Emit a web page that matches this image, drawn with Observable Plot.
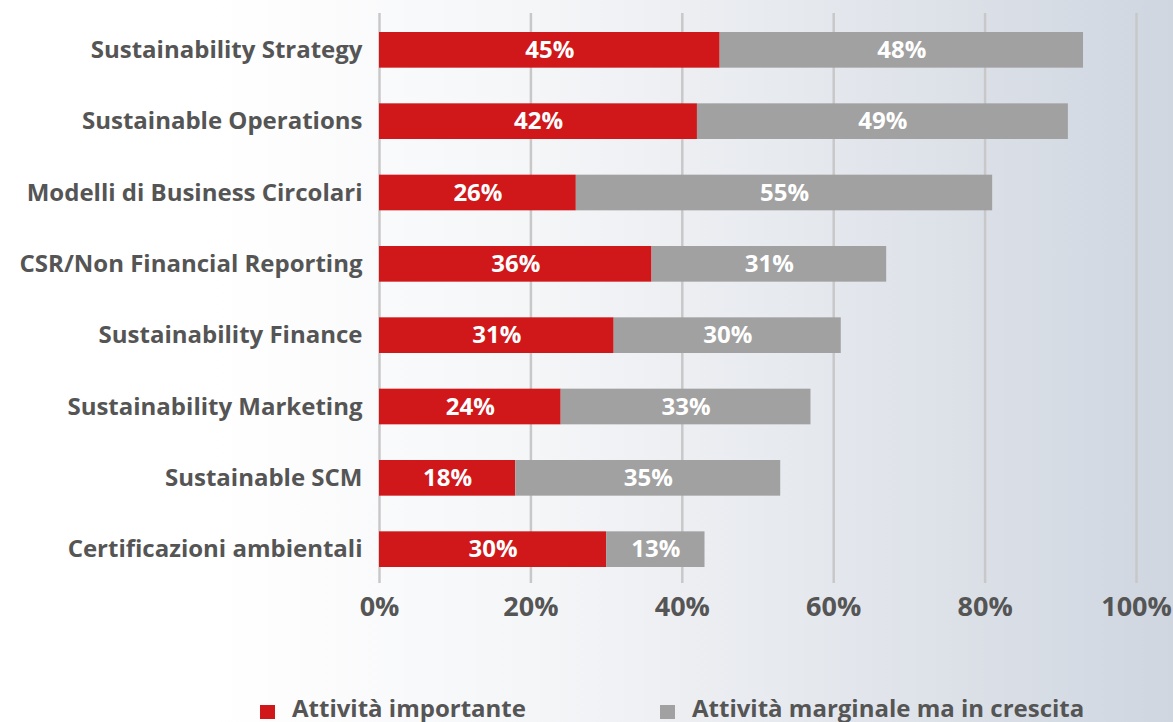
<!DOCTYPE html>
<html>
<head>
<meta charset="utf-8">
<script src="https://cdn.jsdelivr.net/npm/d3@7"></script>
<script src="https://cdn.jsdelivr.net/npm/@observablehq/plot@0.6"></script>
<style>
  html, body { margin: 0; padding: 0; }
  body {
    width: 1173px; height: 722px; overflow: hidden;
    background: linear-gradient(to right, #ffffff 0%, #ffffff 18%, #f5f6f8 45%, #e6e9ee 68%, #cfd6e0 100%);
    font-family: "Open Sans", sans-serif;
  }
  #chart svg { background: transparent; display: block; }
  #legend { position: relative; height: 82px; }
  .item { position: absolute; top: 55px; font-size: 24px; font-weight: 700; color: #555; white-space: nowrap; }
  .sw { position: absolute; left: 0; top: 10px; width: 15px; height: 14px; }
  .lbl { position: absolute; left: 32px; top: -4px; }
</style>
</head>
<body>
<div id="chart"></div>
<div id="legend"></div>
<script>
const categories = [
  "Sustainability Strategy",
  "Sustainable Operations",
  "Modelli di Business Circolari",
  "CSR/Non Financial Reporting",
  "Sustainability Finance",
  "Sustainability Marketing",
  "Sustainable SCM",
  "Certificazioni ambientali"
];
const importante = [45, 42, 26, 36, 31, 24, 18, 30];
const marginale = [48, 49, 55, 31, 30, 33, 35, 13];
const seriesNames = ["Attività importante", "Attività marginale ma in crescita"];
const seriesColors = ["#d0171a", "#a1a1a1"];
const xTicks = [0, 20, 40, 60, 80, 100];

const rows = [];
categories.forEach((c, i) => {
  rows.push({cat: c, series: seriesNames[0], value: importante[i], start: 0});
  rows.push({cat: c, series: seriesNames[1], value: marginale[i], start: importante[i]});
});
rows.forEach(r => { r.end = r.start + r.value; r.mid = r.start + r.value / 2; });

const chart = Plot.plot({
  width: 1173,
  height: 640,
  marginLeft: 379,
  marginRight: 37,
  marginTop: 13,
  marginBottom: 57,
  style: { background: "transparent", fontFamily: "'Open Sans', sans-serif", overflow: "visible" },
  x: { domain: [0, 100] },
  y: { domain: categories, range: [32, 567], paddingInner: 0.5, paddingOuter: 0, round: false },
  color: { domain: seriesNames, range: seriesColors },
  marks: [
    Plot.ruleX(xTicks, { stroke: "#c8c8c8", strokeWidth: 2.5 }),
    Plot.barX(rows, { y: "cat", x1: "start", x2: "end", fill: "series" }),
    Plot.text(rows, { y: "cat", x: "mid", text: d => d.value + "%", fill: "white", fontSize: 24, fontWeight: 700 }),
    Plot.axisX({ ticks: xTicks, tickSize: 0, tickPadding: 13, tickFormat: d => d + "%", fontSize: 27, fontWeight: 700, color: "#555", label: null }),
    Plot.axisY({ tickSize: 0, tickPadding: 17, fontSize: 24, fontWeight: 700, color: "#555", label: null })
  ]
});
document.getElementById("chart").append(chart);

const legend = document.getElementById("legend");
const lx = [260, 660];
seriesNames.forEach((n, i) => {
  const it = document.createElement("div");
  it.className = "item";
  it.style.left = lx[i] + "px";
  it.innerHTML = `<span class="sw" style="background:${seriesColors[i]}"></span><span class="lbl">${n}</span>`;
  legend.append(it);
});
</script>
</body>
</html>
